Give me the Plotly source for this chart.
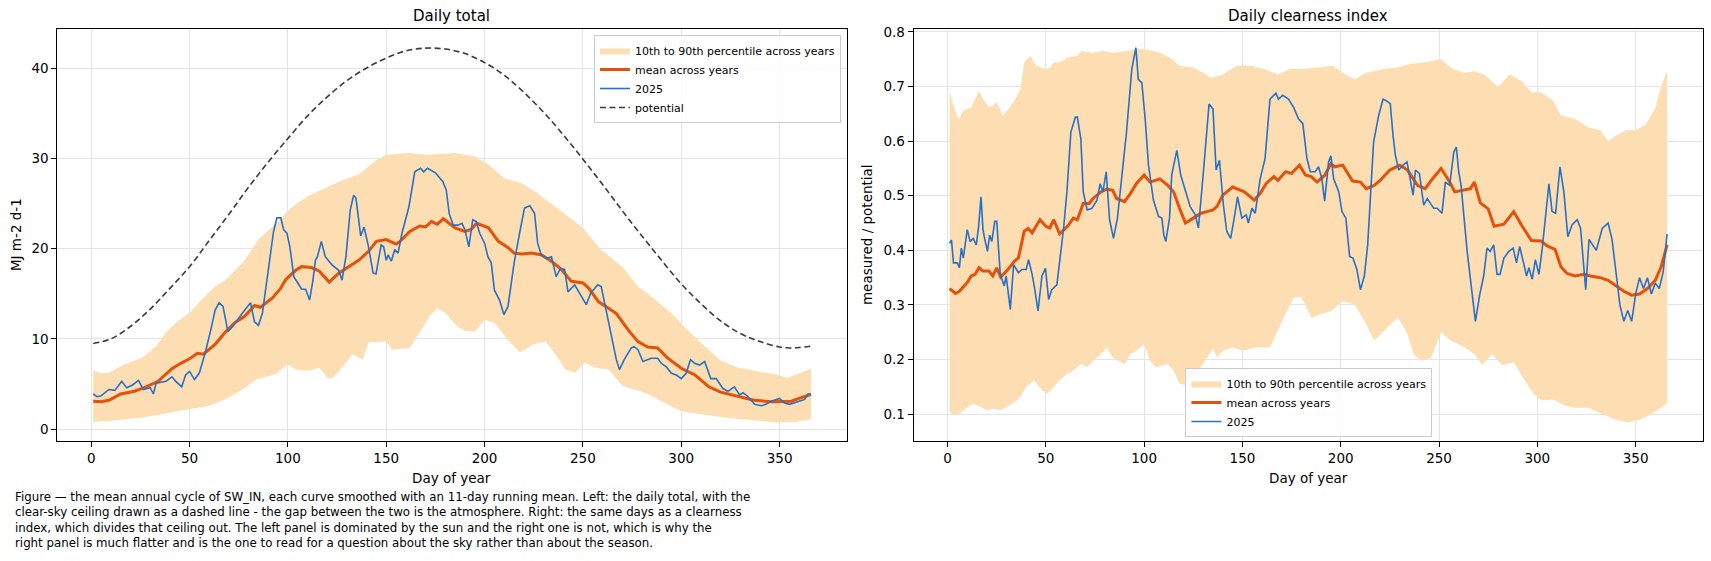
import plotly.graph_objects as go

# ---- left panel: daily total (MJ m-2 d-1), 11-day running means ----
pot_days = [1, 10, 20, 30, 40, 50, 60, 70, 80, 90, 100, 110, 120, 130, 140, 150, 160, 170, 180,
            190, 200, 210, 220, 230, 240, 250, 260, 270, 280, 290, 300, 310, 320, 330, 340, 350,
            355, 360, 366]
pot_vals = [9.5, 10.0, 11.4, 13.3, 15.6, 18.0, 20.9, 23.8, 26.8, 29.6, 32.2, 34.7, 36.8, 38.6, 40.0,
            41.1, 41.9, 42.2, 42.1, 41.6, 40.6, 39.2, 37.3, 35.1, 32.6, 29.9, 27.1, 24.2, 21.4, 18.7,
            16.1, 13.9, 12.0, 10.6, 9.7, 9.1, 9.0, 9.05, 9.2]

tot_p90_days = [1, 5, 9, 17, 26, 33, 38, 43, 50, 56, 63, 68, 77, 85, 94, 102, 111, 119, 128, 136,
                145, 150, 162, 170, 185, 195, 202, 210, 219, 227, 236, 244, 250, 259, 270, 278, 286,
                295, 303, 312, 320, 329, 337, 347, 354, 361, 366]
tot_p90_vals = [6.5, 6.2, 6.25, 7.2, 7.9, 9.2, 10.7, 11.8, 12.9, 14.3, 15.8, 16.5, 18.4, 21.0, 22.8,
                24.6, 25.9, 26.7, 27.6, 28.2, 29.8, 30.4, 30.6, 30.4, 30.6, 30.2, 29.3, 27.8, 27.2,
                26.1, 24.6, 23.3, 22.3, 19.9, 18.0, 15.8, 14.5, 12.8, 11.0, 9.15, 7.6, 6.8, 6.5,
                6.1, 5.7, 6.25, 6.7]

tot_p10_days = [1, 9, 17, 26, 36, 43, 50, 60, 68, 77, 84, 94, 100, 104, 111, 116, 121, 124, 128,
                133, 138, 141, 150, 153, 162, 167, 172, 176, 180, 186, 190, 195, 200, 205, 212, 218,
                225, 231, 236, 241, 246, 251, 256, 263, 270, 276, 283, 290, 300, 310, 322, 331, 348,
                358, 366]
tot_p10_vals = [0.8, 0.9, 1.1, 1.3, 1.65, 2.0, 2.2, 2.6, 3.3, 4.4, 5.5, 6.1, 7.2, 6.6, 6.5, 6.8, 5.5,
                5.9, 7.0, 8.3, 7.7, 9.6, 9.7, 8.8, 9.0, 10.7, 12.5, 13.4, 12.9, 11.4, 10.9, 10.8,
                12.1, 11.8, 9.85, 8.5, 9.4, 9.7, 8.3, 6.6, 6.25, 7.35, 6.8, 6.6, 4.8, 4.4, 3.9, 3.1,
                2.0, 1.65, 1.3, 1.1, 0.75, 0.8, 1.1]

tot_mean_days = [1, 5, 9, 15, 22, 27, 34, 41, 46, 50, 54, 57, 63, 68, 73, 78, 83, 86, 92, 96, 99,
                 104, 107, 112, 116, 121, 126, 131, 136, 141, 145, 150, 155, 157, 162, 167, 170, 173,
                 176, 179, 185, 190, 193, 196, 202, 207, 212, 215, 219, 224, 229, 234, 239, 244, 250,
                 253, 258, 263, 267, 273, 278, 283, 288, 293, 300, 307, 314, 320, 329, 337, 346, 352,
                 356, 361, 366]
tot_mean_vals = [3.1, 3.05, 3.2, 3.9, 4.2, 4.6, 5.3, 6.7, 7.35, 7.8, 8.4, 8.3, 9.4, 10.7, 11.8, 12.5,
                 13.7, 13.5, 14.5, 15.5, 16.6, 17.6, 18.0, 17.9, 17.5, 16.3, 17.3, 18.0, 18.7, 19.7,
                 20.8, 21.0, 20.5, 20.8, 21.9, 22.5, 22.4, 23.0, 22.7, 23.3, 22.3, 21.9, 22.1, 22.8,
                 22.3, 20.8, 20.1, 19.5, 19.4, 19.5, 19.3, 18.6, 17.7, 16.4, 16.2, 15.6, 14.1, 13.4,
                 12.8, 11.0, 9.7, 9.1, 9.0, 7.9, 6.75, 6.0, 4.7, 4.1, 3.6, 3.2, 3.05, 3.1, 3.1, 3.5,
                 3.85]

tot_2025_days = [1, 3, 5, 9, 12, 15.5, 18, 21, 24, 26.5, 30, 31.6, 33, 38, 41, 43, 46, 48, 50, 52.5,
                 55, 58, 61, 63, 65, 67, 69.5, 72, 77, 78, 81, 83, 85, 87, 90, 92.7, 94.4, 96.4,
                 97.8, 99.5, 101, 103, 104.7, 107, 109, 111, 112.6, 114, 115, 117, 119, 122.4, 125.8,
                 127.5, 129.5, 131.7, 133.4, 134.6, 137, 138.7, 141, 143.3, 144.8, 147.4, 148.7, 150,
                 151, 152.6, 154.3, 156, 158, 161.5, 164.5, 167.4, 169, 171, 175, 178.8, 180.5, 182,
                 184, 186.4, 188.5, 190, 192, 194, 195.8, 197.5, 200, 201.7, 203.4, 205, 207.6, 209.8,
                 211.9, 215, 217.8, 220.3, 223, 225.4, 227, 228.8, 231.4, 234, 236.4, 238.6, 240.7,
                 242.4, 245.8, 248.3, 251.7, 254, 257.6, 259.3, 261, 264.4, 267, 268.6, 271, 274.6,
                 276, 278, 280.5, 284.7, 288, 289.8, 292.4, 295, 297.5, 300, 302.5, 304.7, 306.8,
                 309.3, 311.9, 315, 317.8, 321.2, 323.7, 327, 329.7, 331.4, 334, 337.3, 340.7, 343,
                 345.8, 350, 352.5, 355, 357.6, 360, 362.7, 364.4, 366]
tot_2025_vals = [3.9, 3.6, 3.7, 4.4, 4.3, 5.3, 4.6, 4.9, 5.4, 4.4, 4.6, 3.9, 5.1, 5.3, 5.8, 5.3, 4.7,
                 6.0, 6.4, 5.5, 6.25, 8.5, 11.2, 13.2, 14.0, 13.6, 10.8, 11.4, 12.9, 13.2, 14.0, 11.9,
                 11.5, 12.8, 17.6, 21.9, 23.4, 23.4, 22.1, 21.7, 20.2, 16.9, 16.3, 15.5, 15.5, 14.3,
                 16.3, 18.7, 19.1, 20.8, 19.1, 18.2, 17.6, 16.5, 19.1, 24.3, 25.9, 25.6, 21.4, 22.4,
                 20.2, 17.3, 17.2, 20.4, 20.2, 18.7, 19.3, 18.6, 19.9, 19.5, 21.7, 24.6, 28.5, 28.9,
                 28.5, 28.9, 28.4, 27.4, 26.5, 23.9, 22.6, 22.6, 22.8, 22.1, 20.2, 23.2, 23.0, 21.7,
                 20.6, 19.1, 18.4, 15.4, 14.3, 12.7, 13.6, 18.4, 21.7, 24.5, 24.75, 23.9, 20.6, 19.3,
                 18.9, 19.1, 16.9, 17.8, 17.7, 15.2, 16.0, 15.1, 13.8, 15.1, 16.0, 15.8, 14.0, 10.6,
                 7.7, 6.6, 7.7, 9.0, 9.15, 8.8, 7.5, 7.85, 7.85, 7.3, 6.9, 6.2, 6.0, 5.6, 6.2, 7.7,
                 7.3, 7.1, 7.5, 5.6, 5.6, 4.5, 4.2, 4.7, 3.8, 4.05, 3.6, 2.75, 2.6, 2.75, 3.1, 3.4,
                 2.9, 2.75, 2.9, 3.1, 3.3, 3.9, 3.9]

# ---- right panel: clearness index (measured / potential) ----
kt_p90_days = [1, 3, 5, 6, 8, 12, 14, 16, 18, 21, 23, 25, 28, 31, 34, 37, 39, 42, 45, 50, 52, 54,
               57, 61, 66, 68, 74, 79, 84, 91, 96, 101, 108, 113, 118, 125, 130, 134, 140, 147, 154,
               161, 168, 174, 181, 188, 196, 201, 207, 213, 222, 229, 235, 242, 251, 257, 263, 268,
               273, 280, 286, 292, 297, 302, 308, 312, 319, 326, 332, 336, 340, 345, 350, 355, 360,
               363, 366]
kt_p90_vals = [0.692, 0.665, 0.644, 0.641, 0.656, 0.662, 0.677, 0.692, 0.677, 0.662, 0.665, 0.671,
               0.647, 0.659, 0.674, 0.695, 0.744, 0.756, 0.738, 0.732, 0.735, 0.744, 0.744, 0.753,
               0.756, 0.765, 0.762, 0.765, 0.762, 0.765, 0.769, 0.768, 0.762, 0.753, 0.738, 0.735,
               0.725, 0.716, 0.722, 0.738, 0.738, 0.732, 0.722, 0.732, 0.732, 0.735, 0.738, 0.725,
               0.713, 0.725, 0.732, 0.735, 0.741, 0.744, 0.75, 0.732, 0.725, 0.728, 0.722, 0.699,
               0.722, 0.71, 0.689, 0.689, 0.674, 0.647, 0.641, 0.625, 0.62, 0.60, 0.61, 0.62, 0.62,
               0.63, 0.66, 0.70, 0.73]

kt_p10_days = [1, 3, 6, 10, 13, 17, 20, 23, 27, 30, 34, 37, 40, 44, 48, 51, 54, 57, 61, 64, 68, 71,
               74, 78, 81, 84, 90, 93, 96, 100, 103, 106, 112, 115, 118, 121, 125, 130, 135, 137,
               140, 145, 150, 157, 164, 171, 176, 180, 185, 190, 195, 201, 207, 212, 217, 222, 229,
               234, 237, 241, 246, 251, 256, 263, 268, 272, 277, 282, 288, 293, 298, 302, 308, 314,
               319, 326, 333, 340, 346, 352, 358, 362, 366]
kt_p10_vals = [0.104, 0.098, 0.101, 0.113, 0.119, 0.113, 0.107, 0.11, 0.107, 0.113, 0.122, 0.131,
               0.15, 0.162, 0.144, 0.138, 0.15, 0.162, 0.174, 0.18, 0.192, 0.186, 0.198, 0.21, 0.222,
               0.204, 0.192, 0.21, 0.216, 0.228, 0.198, 0.186, 0.192, 0.18, 0.156, 0.153, 0.168,
               0.192, 0.22, 0.204, 0.216, 0.222, 0.216, 0.222, 0.222, 0.277, 0.314, 0.314, 0.277,
               0.283, 0.289, 0.307, 0.301, 0.271, 0.235, 0.253, 0.277, 0.247, 0.21, 0.198, 0.204,
               0.25, 0.235, 0.222, 0.21, 0.19, 0.21, 0.19, 0.195, 0.165, 0.138, 0.125, 0.127, 0.116,
               0.112, 0.112, 0.10, 0.09, 0.085, 0.09, 0.10, 0.11, 0.12]

kt_mean_days = [1, 4, 6, 8, 10, 12, 14, 16, 18, 21, 23, 25, 27, 30, 34, 36, 39, 41, 43, 45, 47, 50,
                52, 54, 57, 61, 64, 66, 68, 69, 72, 74, 78, 81, 84, 86, 90, 93, 96, 100, 103, 108,
                112, 115, 118, 121, 125, 129, 132, 135, 137, 140, 145, 151, 156, 159, 162, 166, 168,
                172, 175, 179, 182, 185, 188, 192, 195, 197, 201, 206, 210, 213, 217, 220, 225, 230,
                234, 239, 243, 246, 251, 255, 258, 262, 266, 268, 271, 275, 278, 283, 288, 292, 297,
                302, 305, 309, 312, 315, 319, 324, 327, 332, 336, 340, 344, 348, 352, 356, 360, 363,
                366]
kt_mean_vals = [0.330, 0.321, 0.325, 0.333, 0.341, 0.353, 0.356, 0.368, 0.362, 0.362, 0.353, 0.368,
                0.351, 0.362, 0.38, 0.386, 0.435, 0.44, 0.432, 0.444, 0.456, 0.444, 0.441, 0.456,
                0.43, 0.444, 0.459, 0.456, 0.474, 0.486, 0.486, 0.495, 0.507, 0.512, 0.51, 0.495,
                0.489, 0.504, 0.522, 0.538, 0.525, 0.531, 0.519, 0.507, 0.477, 0.45, 0.459, 0.468,
                0.471, 0.474, 0.48, 0.501, 0.516, 0.507, 0.492, 0.504, 0.522, 0.535, 0.528, 0.544,
                0.541, 0.556, 0.538, 0.535, 0.525, 0.538, 0.559, 0.553, 0.556, 0.527, 0.525, 0.513,
                0.519, 0.528, 0.547, 0.556, 0.547, 0.519, 0.513, 0.528, 0.55, 0.528, 0.507, 0.51,
                0.513, 0.525, 0.487, 0.476, 0.444, 0.448, 0.471, 0.446, 0.418, 0.417, 0.408, 0.402,
                0.37, 0.358, 0.353, 0.356, 0.353, 0.35, 0.345, 0.335, 0.325, 0.318, 0.32, 0.33,
                0.345, 0.37, 0.41]

kt_2025_days = [1, 2, 3, 5, 6, 7, 8, 9.5, 10, 11.5, 13, 14.6, 15.8, 17, 18, 19, 20.3, 21.4, 22.5, 24,
                25, 26.8, 28.8, 29.8, 31.9, 33.6, 36, 37.8, 40, 41.2, 43, 44.2, 46, 48, 49.8, 51.4,
                53, 55.6, 57.3, 59, 60.7, 62.7, 65, 66, 67.8, 69, 71, 73.4, 76, 77.6, 79, 80.7, 82.4,
                84.4, 86.4, 88.6, 91, 93.7, 95.8, 97, 98.8, 100.5, 102.2, 104.7, 107.3, 109, 110,
                111, 112.9, 114, 116.6, 118.6, 121, 123.4, 126, 127.6, 130, 133, 135, 136.6, 138.3,
                140.3, 142, 144, 145.8, 147.5, 149.7, 151.9, 153, 154.8, 156.5, 159, 161.5, 164, 167,
                168.3, 170.5, 173.4, 176, 178.5, 180.7, 182.8, 184.5, 187, 188.7, 190.4, 191.8,
                193.8, 195, 196.4, 199, 200.6, 202.6, 204.5, 206.2, 207.4, 208.2, 210, 212, 213.7,
                216.7, 219.3, 221.5, 223.2, 225.2, 226.6, 227.8, 229.5, 231.7, 233.7, 235.4, 236.8,
                238, 240, 242.2, 244, 245.6, 247.3, 249, 251.5, 253.2, 255.4, 257.5, 258.8, 260,
                261.2, 264.3, 266.8, 268.5, 270.7, 272.7, 274.4, 276, 277.8, 279.5, 281, 283, 285.5,
                287.7, 289.4, 291, 293, 294.5, 295.7, 297.4, 299, 300.8, 302.5, 304, 305.9, 307.5,
                309.3, 311.5, 313.5, 315.5, 317.7, 320.3, 322, 324.6, 326.3, 330, 333, 336, 338, 340,
                342, 344, 346, 348, 350, 352, 354, 356, 358, 360, 362, 364, 366]
kt_2025_vals = [0.413, 0.419, 0.377, 0.377, 0.368, 0.404, 0.386, 0.419, 0.438, 0.416, 0.422, 0.41,
                0.444, 0.498, 0.438, 0.419, 0.398, 0.428, 0.416, 0.453, 0.453, 0.356, 0.335, 0.353,
                0.292, 0.374, 0.359, 0.365, 0.365, 0.383, 0.356, 0.332, 0.289, 0.353, 0.367, 0.31,
                0.328, 0.337, 0.389, 0.44, 0.507, 0.616, 0.644, 0.644, 0.604, 0.507, 0.474, 0.477,
                0.492, 0.522, 0.507, 0.544, 0.456, 0.422, 0.459, 0.531, 0.616, 0.732, 0.771, 0.713,
                0.707, 0.641, 0.556, 0.492, 0.462, 0.459, 0.428, 0.416, 0.459, 0.538, 0.583, 0.538,
                0.507, 0.48, 0.465, 0.441, 0.538, 0.668, 0.659, 0.547, 0.565, 0.483, 0.435, 0.422,
                0.459, 0.498, 0.459, 0.465, 0.45, 0.477, 0.468, 0.531, 0.568, 0.677, 0.688, 0.677,
                0.684, 0.677, 0.662, 0.641, 0.632, 0.568, 0.544, 0.544, 0.553, 0.531, 0.49, 0.562,
                0.573, 0.531, 0.507, 0.471, 0.459, 0.389, 0.386, 0.374, 0.365, 0.328, 0.353, 0.41,
                0.598, 0.647, 0.677, 0.674, 0.668, 0.61, 0.574, 0.547, 0.556, 0.562, 0.525, 0.501,
                0.547, 0.541, 0.483, 0.495, 0.486, 0.477, 0.477, 0.468, 0.525, 0.519, 0.58, 0.589,
                0.544, 0.519, 0.398, 0.319, 0.27, 0.319, 0.353, 0.404, 0.398, 0.41, 0.356, 0.356,
                0.386, 0.398, 0.404, 0.377, 0.407, 0.377, 0.353, 0.368, 0.347, 0.383, 0.356, 0.404,
                0.459, 0.522, 0.471, 0.468, 0.553, 0.507, 0.425, 0.447, 0.456, 0.44, 0.328, 0.42,
                0.40, 0.44, 0.45, 0.42, 0.36, 0.30, 0.27, 0.29, 0.27, 0.32, 0.35, 0.33, 0.35, 0.32,
                0.34, 0.33, 0.36, 0.43]

caption = ("Figure \u2014 the mean annual cycle of SW_IN, each curve smoothed with an 11-day running mean. "
           "Left: the daily total, with the<br>clear-sky ceiling drawn as a dashed line - the gap between "
           "the two is the atmosphere. Right: the same days as a clearness<br>index, which divides that "
           "ceiling out. The left panel is dominated by the sun and the right one is not, which is why the"
           "<br>right panel is much flatter and is the one to read for a question about the sky rather "
           "than about the season.")

BAND = "#fddeb2"
MEAN = "#e4510a"
BLUE = "#2670c8"
FONT = "DejaVu Sans"

fig = go.Figure()


def add_panel(xa, ya, leg, p90_d, p90_v, p10_d, p10_v, mean_d, mean_v, y25_d, y25_v):
    # percentile band as one closed polygon
    fig.add_trace(go.Scatter(
        x=p90_d + p10_d[::-1], y=p90_v + p10_v[::-1],
        fill="toself", fillcolor=BAND, mode="lines", line=dict(width=0, color=BAND),
        name="10th to 90th percentile across years", xaxis=xa, yaxis=ya, legend=leg,
        hoverinfo="skip"))
    fig.add_trace(go.Scatter(
        x=mean_d, y=mean_v, mode="lines", line=dict(color=MEAN, width=3),
        name="mean across years", xaxis=xa, yaxis=ya, legend=leg))
    fig.add_trace(go.Scatter(
        x=y25_d, y=y25_v, mode="lines", line=dict(color=BLUE, width=1.6),
        name="2025", xaxis=xa, yaxis=ya, legend=leg))


add_panel("x", "y", "legend", tot_p90_days, tot_p90_vals, tot_p10_days, tot_p10_vals,
          tot_mean_days, tot_mean_vals, tot_2025_days, tot_2025_vals)
fig.add_trace(go.Scatter(
    x=pot_days, y=pot_vals, mode="lines", line=dict(color="#3a3a3a", width=1.6, dash="6px,3.5px"),
    line_shape="spline", name="potential", xaxis="x", yaxis="y", legend="legend"))
add_panel("x2", "y2", "legend2", kt_p90_days, kt_p90_vals, kt_p10_days, kt_p10_vals,
          kt_mean_days, kt_mean_vals, kt_2025_days, kt_2025_vals)

axis_style = dict(
    showline=True, linecolor="black", linewidth=1, mirror=True,
    ticks="outside", ticklen=5, tickcolor="black", tickwidth=1,
    showgrid=True, gridcolor="#e4e4e4", gridwidth=1, zeroline=False,
    tickfont=dict(family=FONT, size=13.5, color="black"), automargin=False)

fig.update_layout(
    width=1711, height=561,
    margin=dict(l=0, r=0, t=0, b=0),
    paper_bgcolor="white", plot_bgcolor="white",
    font=dict(family=FONT, color="black"),
    xaxis=dict(domain=[0.0335, 0.495], range=[-17.25, 384.25], tickvals=list(range(0, 351, 50)),
               anchor="y", **axis_style),
    yaxis=dict(domain=[0.214, 0.948], range=[-1.3, 44.3], tickvals=[0, 10, 20, 30, 40],
               anchor="x", **axis_style),
    xaxis2=dict(domain=[0.534, 0.9953], range=[-17.25, 384.25], tickvals=list(range(0, 351, 50)),
                anchor="y2", **axis_style),
    yaxis2=dict(domain=[0.214, 0.948], range=[0.051, 0.805],
                tickvals=[0.1, 0.2, 0.3, 0.4, 0.5, 0.6, 0.7, 0.8], tickformat=".1f",
                anchor="x2", **axis_style),
    legend=dict(x=0.4915, y=0.9376, xanchor="right", yanchor="top",
                bgcolor="rgba(255,255,255,0.85)", bordercolor="#cccccc", borderwidth=1,
                font=dict(family=FONT, size=11), itemwidth=30, tracegroupgap=0),
    legend2=dict(x=0.765, y=0.221, xanchor="center", yanchor="bottom",
                 bgcolor="rgba(255,255,255,0.85)", bordercolor="#cccccc", borderwidth=1,
                 font=dict(family=FONT, size=11), itemwidth=30, tracegroupgap=0),
    showlegend=True,
)

annots = [
    dict(text="Daily total", x=0.264, y=1 - 16 / 561, font=dict(size=15)),
    dict(text="Daily clearness index", x=0.7647, y=1 - 16 / 561, font=dict(size=15)),
    dict(text="Day of year", x=0.264, y=1 - 478 / 561, font=dict(size=13.5)),
    dict(text="Day of year", x=0.7647, y=1 - 478 / 561, font=dict(size=13.5)),
    dict(text="MJ m-2 d-1", x=16 / 1711, y=0.581, textangle=-90, font=dict(size=13.5)),
    dict(text="measured / potential", x=867 / 1711, y=0.581, textangle=-90, font=dict(size=13.5)),
]
for a in annots:
    fig.add_annotation(xref="paper", yref="paper", showarrow=False,
                       xanchor="center", yanchor="middle", **a)

fig.add_annotation(text=caption, xref="paper", yref="paper", x=13 / 1711, y=1 - 488 / 561,
                   xanchor="left", yanchor="top", align="left", showarrow=False,
                   font=dict(family=FONT, size=11.8, color="black"))

fig.write_html("out.html", config={"displayModeBar": False},
               post_script="document.body.style.margin='0';document.body.style.overflow='hidden';")
